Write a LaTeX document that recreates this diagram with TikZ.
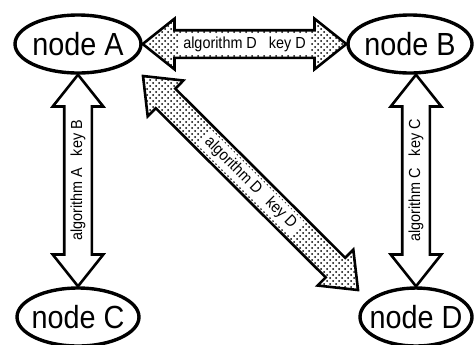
\documentclass[tikz,border=0pt]{standalone}
\usepackage{fontspec}
\setmainfont[FakeStretch=0.9]{Liberation Sans}
\usepackage{tikz}
\usetikzlibrary{calc,patterns,shapes.arrows,shapes.geometric}

% wide two-headed arrow from #2 to #3, label #5 on a white patch
\newcommand{\fatarrow}[5]{%
  \path let \p1=($(#3)-(#2)$), \n1={veclen(\x1,\y1)}, \n2={atan2(\y1,\x1)} in
    node[fat arrow,#1,minimum height=\n1,rotate=\n2] (#4) at ($(#2)!0.5!(#3)$) {}
    node[arrow label,rotate=\n2] (#4-lbl) at (#4.center) {#5};}

\tikzset{
  host/.style={draw,ellipse,line width=1.7pt,minimum width=63pt,minimum height=29pt,
    inner sep=0pt,inner xsep=-8pt,font=\fontsize{16}{18}\selectfont},
  fat arrow/.style={draw,double arrow,line width=1.3pt,inner sep=0pt,inner ysep=6.25pt,
    text height=0pt,text depth=0pt,double arrow head extend=5.75pt,double arrow tip angle=77},
  hollow/.style={fill=white},
  stipple/.style={pattern=crosshatch dots,pattern color=black},
  arrow label/.style={fill=white,inner xsep=2pt,inner ysep=1.2pt,text height=6pt,
    text depth=1.8pt,font=\fontsize{8}{9}\selectfont}
}

\begin{document}
\begin{tikzpicture}[x=0.5pt,y=-0.5pt]
  \path[use as bounding box,fill=white] (0,0) rectangle (474,344);

  \node[host] (A) at (78,44) {node A};
  \node[host,minimum width=62pt] (B) at (410,44) {node B};
  \node[host,minimum width=61pt] (C) at (78,317) {node C};
  \node[host,minimum width=56pt] (D) at (416,317) {node D};

  \coordinate (diagA) at (143,76);
  \coordinate (diagD) at (358,290);

  \fatarrow{stipple}{A.east}{B.west}{ab}{algorithm D\hspace{6pt}key D}
  \fatarrow{hollow}{C.north}{A.south}{ca}{algorithm A\hspace{6pt}key B}
  \fatarrow{hollow}{D.north}{B.south -| D.north}{db}{algorithm C\hspace{6pt}key C}
  \fatarrow{stipple}{diagA}{diagD}{ad}{algorithm D\hspace{6pt}key D}
\end{tikzpicture}
\end{document}
